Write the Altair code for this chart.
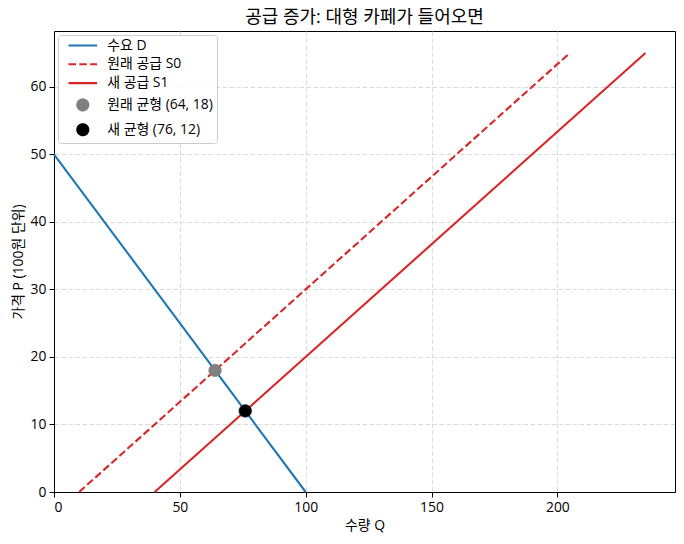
import altair as alt
import pandas as pd

# ---- data ----
series = ["수요 D", "원래 공급 S0", "새 공급 S1", "원래 균형 (64, 18)", "새 균형 (76, 12)"]
demand_q = [0, 100]
demand_p = [50, 0]
s0_q = [10, 205]
s0_p = [0, 65]
s1_q = [40, 235]
s1_p = [0, 65]
eq_q = [64, 76]
eq_p = [18, 12]
x_ticks = [0, 50, 100, 150, 200]
y_ticks = [0, 10, 20, 30, 40, 50, 60]

colors = ["#1f77b4", "#d62728", "#d62728", "#808080", "#000000"]
fills = ["transparent", "transparent", "transparent", "#808080", "#000000"]
DASH = [7.5, 3.3]
dashes = [[1, 0], DASH, [1, 0], [1, 0], [1, 0]]
shapes = ["M-2.6,0H2.6", "M-2.6,0H2.6", "M-2.6,0H2.6", "circle", "circle"]

rows = []
for name, qs, ps in [(series[0], demand_q, demand_p), (series[1], s0_q, s0_p), (series[2], s1_q, s1_p)]:
    for i, (q, p) in enumerate(zip(qs, ps)):
        rows.append({"series": name, "q": q, "p": p, "o": i})
line_df = pd.DataFrame(rows)
pt_df = pd.DataFrame({"series": series[3:], "q": eq_q, "p": eq_p})

FONT = "Open Sans, Noto Sans CJK KR"
xscale = alt.Scale(domain=[0, 246.75], nice=False, zero=False)
yscale = alt.Scale(domain=[0, 68.25], nice=False, zero=False)
xenc = alt.X("q:Q", scale=xscale, title="수량 Q", axis=alt.Axis(values=x_ticks, titlePadding=5))
yenc = alt.Y("p:Q", scale=yscale, title="가격 P (100원 단위)", axis=alt.Axis(values=y_ticks, titlePadding=5))

# line colours use their own (3-entry) scale so they do not merge with the legend scales
line_color_scale = alt.Scale(domain=series[:3], range=colors[:3])

solid = alt.Chart(line_df).transform_filter(
    alt.datum.series != series[1]
).mark_line(strokeWidth=2.1).encode(
    x=xenc, y=yenc, order="o:Q",
    color=alt.Color("series:N", scale=line_color_scale, legend=None),
)
dashed = alt.Chart(line_df).transform_filter(
    alt.datum.series == series[1]
).mark_line(strokeWidth=2.1, strokeDash=DASH).encode(
    x=xenc, y=yenc, order="o:Q",
    color=alt.Color("series:N", scale=line_color_scale, legend=None),
)

points = alt.Chart(pt_df).mark_point(filled=False, size=150, strokeWidth=1, opacity=1).encode(
    x=xenc, y=yenc,
    stroke=alt.Stroke("series:N", scale=alt.Scale(domain=series, range=colors), title=None),
    fill=alt.Fill("series:N", scale=alt.Scale(domain=series, range=fills), title=None),
    shape=alt.Shape("series:N", scale=alt.Scale(domain=series, range=shapes), title=None),
    strokeDash=alt.StrokeDash("series:N", scale=alt.Scale(domain=series, range=dashes), title=None),
)

chart = alt.layer(solid, dashed, points).properties(
    width=621, height=461,
    autosize=alt.AutoSizeParams(type="none"),
    padding={"left": 46, "top": 23, "right": 1, "bottom": 44},
    title=alt.Title("공급 증가: 대형 카페가 들어오면", font=FONT, fontSize=18,
                    fontWeight="normal", color="black", offset=4),
).configure_view(stroke="black", strokeWidth=1).configure_axis(
    labelFont=FONT, titleFont=FONT, labelFontSize=13.9, titleFontSize=13.9,
    titleFontWeight="normal", labelColor="black", titleColor="black",
    domainColor="black", domainWidth=1, tickColor="black", tickSize=5, tickWidth=1,
    labelPadding=3, grid=True, gridColor="#d0d0d0", gridDash=[4.5, 2.5], gridWidth=0.8,
).configure_legend(
    orient="top-left", offset=4, padding=3.5, strokeColor="#cccccc",
    fillColor="rgba(255,255,255,0.85)", cornerRadius=3,
    labelFont=FONT, labelFontSize=13.9, labelColor="black", rowPadding=4.8,
    symbolSize=121, symbolStrokeWidth=2.1, symbolOffset=14.3, labelOffset=17.5,
)

chart.save("out.html", embed_options={"renderer": "svg", "actions": False})
